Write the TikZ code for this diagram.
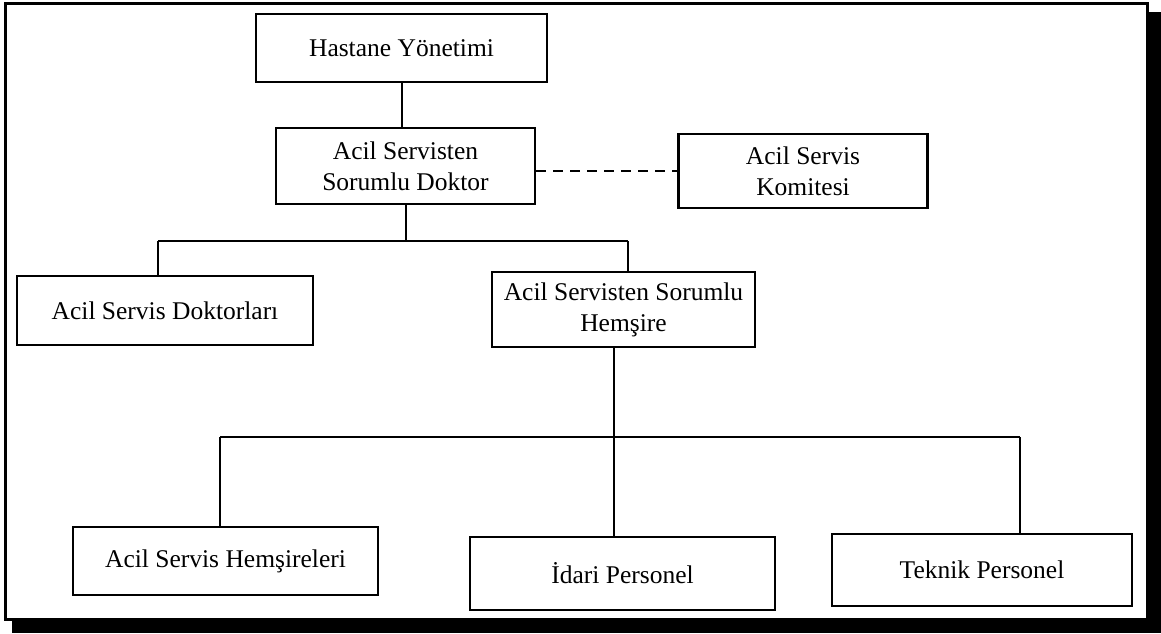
\documentclass[tikz,border=0pt]{standalone}
\usepackage{fontspec}
\setmainfont{Liberation Serif}
\begin{document}
\begin{tikzpicture}[x=1pt,y=-1pt,
  box/.style={draw, line width=2.4pt, rectangle, inner sep=0pt, align=center,
    font=\fontsize{25.5}{31}\selectfont},
  link/.style={line width=2pt},
  dlink/.style={line width=2.4pt, dash pattern=on 10pt off 7pt}]
\useasboundingbox (0,0) rectangle (1161,633);
% frame with shadow
\fill[black] (12,12) rectangle (1161,633);
\draw[line width=3pt, fill=white] (5,3) rectangle (1147,619);
% nodes
\node[box, minimum width=291pt, minimum height=68pt] (hy) at (401.5,48) {Hastane Yönetimi};
\node[box, minimum width=259pt, minimum height=76pt] (asd) at (405.5,166) {Acil Servisten\\Sorumlu Doktor};
\node[box, minimum width=249pt, minimum height=74pt] (kom) at (803,171) {Acil Servis\\Komitesi};
\node[box, minimum width=296pt, minimum height=69pt] (doc) at (165,310.5) {Acil Servis Doktorları};
\node[box, minimum width=263pt, minimum height=75pt] (hem) at (623.5,309.5) {Acil Servisten Sorumlu\\Hemşire};
\node[box, minimum width=305pt, minimum height=68pt] (hmr) at (225.5,561) {Acil Servis Hemşireleri};
\node[box, minimum width=305pt, minimum height=73pt] (idr) at (622.5,573.5) {İdari Personel};
\node[box, minimum width=300pt, minimum height=72pt] (tek) at (982,570) {Teknik Personel};
% bus coordinates
\coordinate (b1l) at (158,241);
\coordinate (b1r) at (628,241);
\coordinate (b2l) at (220,437);
\coordinate (b2m) at (614,437);
\coordinate (b2r) at (1020,437);
% connectors
\draw[link] (hy.south) -- (hy.south |- asd.north);
\draw[dlink] (asd.east |- kom.west) -- (kom.west);
\draw[link] (asd.south) -- (asd.south |- b1l);
\draw[link] (b1l) -- (b1r);
\draw[link] (b1l) -- (b1l |- doc.north);
\draw[link] (b1r) -- (b1r |- hem.north);
\draw[link] (b2m |- hem.south) -- (b2m);
\draw[link] (b2l) -- (b2r);
\draw[link] (b2l) -- (b2l |- hmr.north);
\draw[link] (b2m) -- (b2m |- idr.north);
\draw[link] (b2r) -- (b2r |- tek.north);
\end{tikzpicture}
\end{document}
